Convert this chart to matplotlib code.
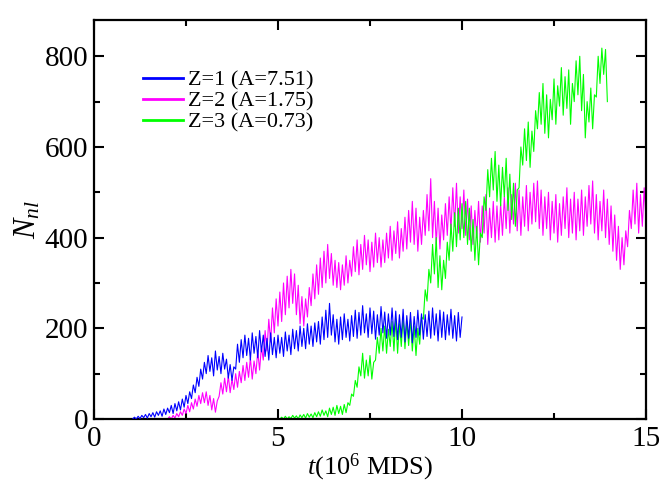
import numpy as np
import matplotlib
matplotlib.use("Agg")
import matplotlib.pyplot as plt
from matplotlib.ticker import MultipleLocator

plt.rcParams['font.family'] = ['Liberation Serif', 'DejaVu Serif']
plt.rcParams['mathtext.fontset'] = 'custom'
plt.rcParams['mathtext.rm'] = 'Liberation Serif'
plt.rcParams['mathtext.it'] = 'Liberation Serif:italic'

# ---- data ----
dt = 0.05
blue_t0 = 1.05
blue_vals = [
    0, 4, 0, 6, 1, 8, 3, 10, 2, 12, 5, 14, 4, 16, 8, 18, 6, 22, 10, 24,
    14, 30, 12, 34, 18, 38, 20, 44, 26, 52, 34, 60, 45, 75, 58, 92, 72, 110, 88, 125,
    100, 140, 105, 135, 95, 150, 108, 138, 100, 145, 110, 132, 90, 120, 85, 115, 110, 165, 125, 175,
    135, 185, 140, 178, 130, 190, 145, 182, 135, 195, 148, 185, 138, 178, 130, 190, 142, 180, 135, 185,
    145, 180, 138, 192, 150, 185, 142, 198, 155, 195, 150, 205, 160, 200, 155, 210, 165, 205, 160, 212,
    170, 215, 165, 225, 175, 240, 180, 255, 185, 230, 170, 220, 165, 225, 175, 232, 180, 220, 172, 228,
    182, 240, 178, 235, 185, 250, 190, 232, 180, 245, 188, 238, 176, 230, 185, 248, 190, 236, 178, 232,
    185, 245, 182, 238, 175, 230, 180, 242, 170, 228, 178, 235, 168, 226, 180, 240, 185, 232, 176, 230,
    182, 238, 178, 245, 185, 232, 172, 240, 180, 236, 175, 230, 185, 242, 178, 228, 172, 235, 180, 225,
]
magenta_t0 = 2.0
magenta_vals = [
    0, 5, 0, 8, 2, 12, 5, 16, 8, 22, 12, 30, 16, 36, 22, 44, 28, 52, 34, 58,
    36, 60, 30, 52, 20, 45, 15, 40, 50, 80, 55, 90, 60, 95, 58, 88, 65, 100, 70, 105,
    80, 118, 85, 125, 92, 135, 88, 128, 100, 150, 108, 160, 130, 195, 150, 220, 170, 245, 190, 265,
    205, 280, 215, 300, 230, 315, 245, 330, 255, 320, 230, 295, 210, 270, 205, 265, 225, 290, 250, 320,
    265, 340, 275, 355, 290, 370, 300, 385, 310, 365, 295, 350, 290, 345, 285, 340, 295, 360, 300, 350,
    315, 380, 325, 395, 318, 385, 330, 405, 340, 395, 325, 390, 335, 410, 345, 400, 335, 395, 345, 410,
    355, 425, 350, 415, 365, 435, 355, 420, 370, 445, 375, 460, 390, 480, 385, 465, 370, 445, 385, 460,
    405, 495, 415, 530, 400, 480, 385, 465, 375, 450, 395, 475, 405, 490, 415, 510, 425, 520, 410, 490,
    420, 505, 405, 485, 395, 470, 385, 460, 400, 480, 390, 470, 410, 495, 385, 465, 400, 480, 390, 470,
    395, 475, 405, 490, 420, 510, 410, 495, 430, 520, 415, 505, 405, 490, 425, 515, 415, 500, 430, 520,
    435, 525, 420, 505, 405, 490, 420, 500, 395, 480, 410, 495, 390, 475, 405, 490, 420, 510, 400, 485,
    410, 500, 395, 485, 415, 505, 405, 490, 425, 515, 430, 525, 410, 495, 395, 480, 415, 505, 400, 485,
    385, 470, 370, 450, 350, 425, 330, 400, 340, 415, 380, 460, 420, 505, 430, 520, 410, 495, 425, 510, 440,
]
green_t0 = 5.05
green_vals = [
    0, 4, 0, 6, 0, 5, 1, 8, 2, 7, 0, 9, 3, 10, 2, 12, 4, 11, 3, 14,
    5, 16, 6, 20, 8, 18, 5, 24, 10, 26, 8, 30, 12, 28, 10, 32, 14, 36, 30, 55,
    50, 85, 70, 115, 95, 145, 90, 130, 95, 140, 88, 125, 130, 180, 145, 200, 150, 205, 145, 198,
    160, 215, 150, 220, 145, 210, 160, 225, 155, 215, 162, 220, 150, 205, 140, 200, 165, 225, 220, 285,
    260, 330, 300, 385, 320, 400, 290, 360, 285, 350, 310, 390, 350, 430, 370, 455, 380, 465, 395, 475,
    400, 480, 385, 465, 370, 440, 350, 425, 340, 410, 400, 490, 460, 550, 490, 575, 505, 590, 480, 560,
    470, 555, 490, 575, 460, 540, 440, 520, 425, 505, 510, 600, 560, 640, 570, 655, 555, 635, 590, 680,
    640, 720, 650, 740, 630, 715, 620, 705, 660, 750, 650, 735, 690, 775, 670, 755, 685, 770, 650, 740,
    700, 790, 715, 800, 680, 760, 620, 700, 655, 730, 640, 715, 710, 800, 740, 818, 760, 815, 700,
]
labels = ["Z=1 (A=7.51)", "Z=2 (A=1.75)", "Z=3 (A=0.73)"]
colors = ["#0000ff", "#ff00ff", "#00ff00"]

series = [(blue_t0, blue_vals), (magenta_t0, magenta_vals), (green_t0, green_vals)]

fig = plt.figure(figsize=(6.6, 4.83), dpi=100)
ax = fig.add_axes([0.1424, 0.1325, 0.8364, 0.8261])

zorders = [3, 2, 2.5]
for (t0, vals), lab, c, z in zip(series, labels, colors, zorders):
    t = t0 + dt * np.arange(len(vals))
    ax.plot(t, vals, color=c, lw=0.8, label=lab, zorder=z)

ax.set_xlim(0, 15)
ax.set_ylim(0, 880)
ax.xaxis.set_major_locator(MultipleLocator(5))
ax.xaxis.set_minor_locator(MultipleLocator(2.5))
ax.yaxis.set_major_locator(MultipleLocator(200))
ax.yaxis.set_minor_locator(MultipleLocator(100))
ax.tick_params(which='both', direction='in', top=True, right=True, width=1.5, labelsize=21)
ax.tick_params(which='major', length=7)
ax.tick_params(axis='x', which='major', pad=5)
ax.tick_params(axis='y', which='major', pad=4)
ax.tick_params(which='minor', length=4)
for s in ax.spines.values():
    s.set_linewidth(1.6)

ax.set_xlabel(r"$t$(10$^{6}$ MDS)", fontsize=19, labelpad=0)
ax.set_ylabel(r"$N_{nl}$", fontsize=22, labelpad=2)

leg = ax.legend(loc='upper left', bbox_to_anchor=(0.089, 0.875), frameon=False, fontsize=16,
                handlelength=1.8, handletextpad=0.22, labelspacing=0.02, borderaxespad=0,
                borderpad=0)
for l in leg.get_lines():
    l.set_linewidth(2)

fig.savefig("out.png", dpi=100)
